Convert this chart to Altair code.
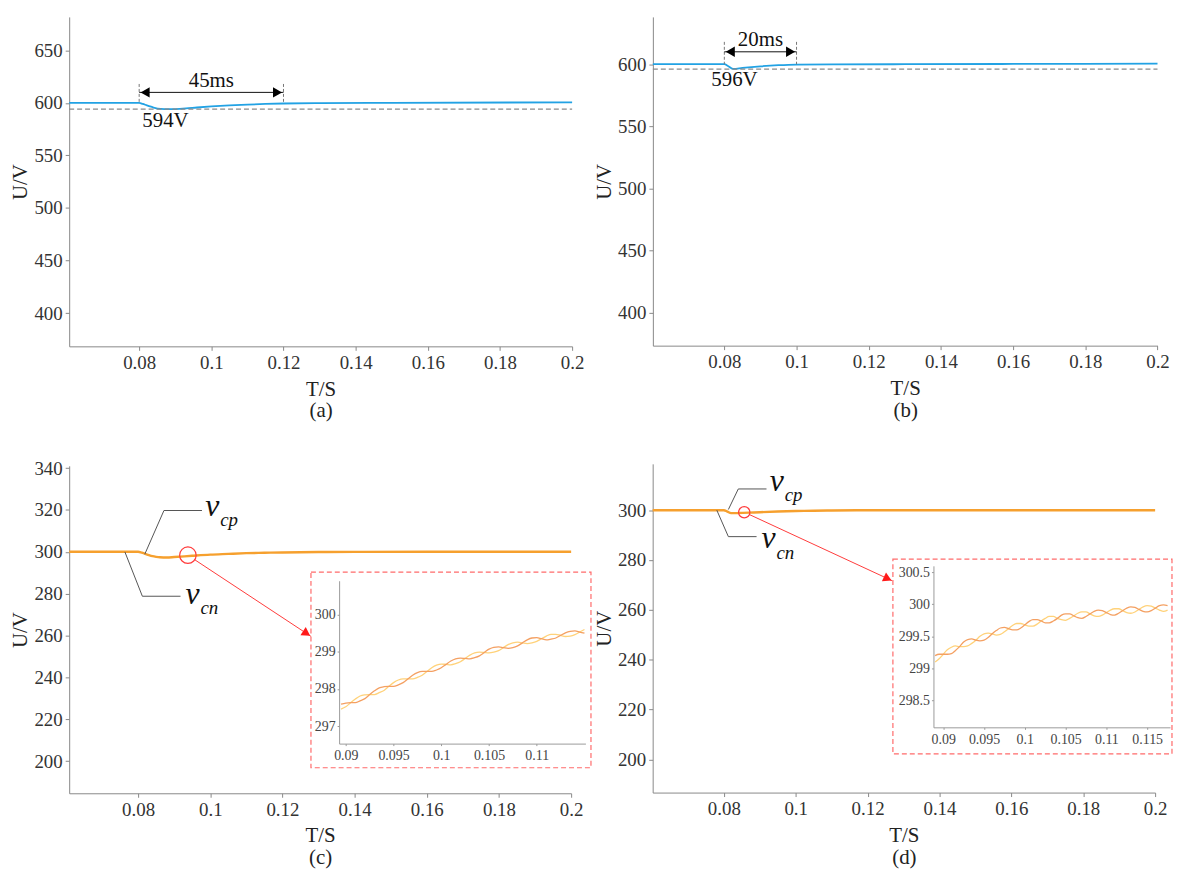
import altair as alt
import pandas as pd

FONT = "Liberation Serif"
W, H = 1173, 863

# ---------------- data ----------------
XT = [0.08, 0.1, 0.12, 0.14, 0.16, 0.18, 0.2]

# (a) DC-link voltage, load step
T_A = [0.0606, 0.08, 0.081, 0.082, 0.083, 0.084, 0.086, 0.088, 0.09, 0.093, 0.096, 0.1, 0.105, 0.11, 0.115, 0.12, 0.13, 0.15, 0.2]
U_A = [600, 600, 599.0, 597.8, 596.6, 595.6, 594.3, 594.0, 594.1, 594.7, 595.6, 596.6, 597.6, 598.4, 599.0, 599.4, 599.8, 600.1, 600.5]
# (b)
T_B = [0.0602, 0.08, 0.081, 0.0825, 0.085, 0.09, 0.095, 0.1, 0.11, 0.13, 0.16, 0.2]
U_B = [600, 600, 598.6, 596.2, 597.0, 598.3, 599.2, 599.7, 599.9, 600.0, 600.2, 600.4]
# (c)
T_C = [0.0609, 0.08, 0.081, 0.082, 0.083, 0.084, 0.085, 0.086, 0.088, 0.09, 0.095, 0.1, 0.105, 0.11, 0.115, 0.12, 0.13, 0.14, 0.16, 0.2]
U_C = [300, 300, 299.6, 299.0, 298.4, 297.9, 297.6, 297.4, 297.3, 297.5, 298.1, 298.65, 299.0, 299.35, 299.55, 299.7, 299.88, 299.95, 300, 300]
# (d)
T_D = [0.0602, 0.08, 0.081, 0.082, 0.084, 0.087, 0.09, 0.095, 0.1, 0.105, 0.11, 0.117, 0.13, 0.2]
U_D = [300, 300, 299.4, 298.8, 298.85, 299.0, 299.2, 299.48, 299.68, 299.8, 299.87, 299.95, 300, 300]

# zoomed insets
T_INSET = [0.089, 0.0895, 0.09, 0.0905, 0.091, 0.0915, 0.092, 0.0925, 0.093, 0.0935,
           0.094, 0.0945, 0.095, 0.0955, 0.096, 0.0965, 0.097, 0.0975, 0.098, 0.0985,
           0.099, 0.0995, 0.1, 0.1005, 0.101, 0.1015, 0.102, 0.1025, 0.103, 0.1035,
           0.104, 0.1045, 0.105, 0.1055, 0.106, 0.1065, 0.107, 0.1075, 0.108, 0.1085,
           0.109, 0.1095, 0.11, 0.1105, 0.111, 0.1115, 0.112, 0.1125, 0.113, 0.1135,
           0.114, 0.1145, 0.115, 0.1155, 0.116, 0.1165, 0.117, 0.1175]
T_IC = T_INSET[1:53]
VCP_C = [297.59, 297.62, 297.63, 297.63, 297.68, 297.74, 297.85, 297.95, 298.03, 298.06,
         298.07, 298.07, 298.11, 298.17, 298.27, 298.37, 298.44, 298.47, 298.47, 298.47,
         298.51, 298.57, 298.66, 298.75, 298.81, 298.83, 298.82, 298.81, 298.84, 298.89,
         298.98, 299.07, 299.12, 299.13, 299.11, 299.09, 299.11, 299.16, 299.24, 299.32,
         299.37, 299.38, 299.35, 299.32, 299.34, 299.37, 299.44, 299.51, 299.55, 299.56,
         299.53, 299.50]
VCN_C = [297.46, 297.52, 297.63, 297.73, 297.81, 297.84, 297.85, 297.85, 297.90, 297.96,
         298.07, 298.17, 298.24, 298.27, 298.27, 298.27, 298.31, 298.37, 298.47, 298.57,
         298.64, 298.67, 298.66, 298.65, 298.68, 298.73, 298.82, 298.91, 298.97, 298.99,
         298.98, 298.97, 298.99, 299.03, 299.11, 299.19, 299.24, 299.26, 299.24, 299.22,
         299.24, 299.28, 299.35, 299.42, 299.47, 299.47, 299.44, 299.41, 299.42, 299.46,
         299.53, 299.60]
T_ID = T_INSET
VCP_D = [299.20, 299.22, 299.22, 299.22, 299.23, 299.28, 299.34, 299.41, 299.45, 299.46,
         299.44, 299.43, 299.44, 299.48, 299.54, 299.59, 299.63, 299.64, 299.62, 299.60,
         299.60, 299.63, 299.68, 299.73, 299.76, 299.76, 299.74, 299.71, 299.71, 299.74,
         299.78, 299.83, 299.85, 299.85, 299.82, 299.79, 299.78, 299.81, 299.85, 299.89,
         299.91, 299.90, 299.87, 299.84, 299.83, 299.86, 299.90, 299.94, 299.96, 299.95,
         299.92, 299.89, 299.88, 299.90, 299.94, 299.98, 299.99, 299.98]
VCN_D = [299.10, 299.15, 299.22, 299.29, 299.33, 299.35, 299.34, 299.34, 299.35, 299.39,
         299.44, 299.50, 299.54, 299.55, 299.54, 299.52, 299.53, 299.57, 299.62, 299.67,
         299.70, 299.70, 299.68, 299.66, 299.66, 299.69, 299.74, 299.78, 299.81, 299.81,
         299.78, 299.76, 299.75, 299.78, 299.82, 299.86, 299.88, 299.88, 299.85, 299.82,
         299.81, 299.83, 299.87, 299.91, 299.93, 299.93, 299.90, 299.87, 299.86, 299.88,
         299.92, 299.96, 299.98, 299.97, 299.94, 299.91, 299.89, 299.91]

# annotation anchors (data units of each panel)
MIN_A, MIN_B = 594, 596
SPAN_A = [0.08, 0.12]
SPAN_B = [0.08, 0.1]
LBL_A = ["45ms", "594V"]
LBL_B = ["20ms", "596V"]

# ---------------- layout (pixel ranges) ----------------
PA = dict(xd=[0.0606, 0.2], xr=[61.6, 568.0], yd=[368.4, 681.8], yr=[337.7, 6.0])
PB = dict(xd=[0.0602, 0.2], xr=[649.3, 1157.4], yd=[373.4, 638.1], yr=[337.0, 6.0])
PC = dict(xd=[0.0609, 0.2], xr=[61.6, 567.0], yd=[184.6, 341.1], yr=[787.7, 458.0])
PD = dict(xd=[0.0602, 0.2], xr=[649.1, 1155.0], yd=[186.7, 318.6], yr=[787.0, 456.0])
IC = dict(xd=[0.0893, 0.1151], xr=[333.4, 581.4], yd=[296.53, 300.91], yr=[737.7, 573.7])
ID = dict(xd=[0.0888, 0.1178], xr=[931.8, 1170.0], yd=[298.08, 300.6], yr=[721.3, 558.7])

BLUE = "#22A2E4"
ORANGE = "#F6A02E"
IN_OR = "#F4A062"
IN_YE = "#FFD27A"
RED = "#FF3A3A"
GRAY = "#8a8a8a"


def sc(dom, rng):
    return alt.Scale(domain=dom, range=rng, nice=False, zero=False)


def enc(P, x="t", y="u", x2=None, y2=None, xaxis=None, yaxis=None, extra=None):
    e = dict(
        x=alt.X(f"{x}:Q", scale=sc(P["xd"], P["xr"]), axis=xaxis),
        y=alt.Y(f"{y}:Q", scale=sc(P["yd"], P["yr"]), axis=yaxis),
    )
    if x2:
        e["x2"] = alt.X2(f"{x2}:Q")
    if y2:
        e["y2"] = alt.Y2(f"{y2}:Q")
    if extra:
        e.update(extra)
    return e


def main_axes(P, yvals, cap):
    xa = alt.Axis(values=XT, format="~g", orient="bottom", offset=P["yr"][0] - H,
                  title=["T/S", cap], titleLineHeight=22, titlePadding=6,
                  labelFlush=False, labelOverlap=False, grid=False)
    ya = alt.Axis(values=yvals, orient="left", offset=-P["xr"][0], title="U/V",
                  titlePadding=3, labelOverlap=False, grid=False)
    return xa, ya


def inset_axes(P, xvals, yvals):
    common = dict(labelFontSize=14, tickSize=2, domainColor="#9a9a9a", tickColor="#9a9a9a",
                  labelColor="#444", title=None, labelOverlap=False, labelFlush=False,
                  grid=False, labelFont=FONT)
    xa = alt.Axis(values=xvals, format="~g", orient="bottom", offset=P["yr"][0] - H,
                  labelPadding=3, **common)
    ya = alt.Axis(values=yvals, format="~g", orient="left", offset=-P["xr"][0],
                  labelPadding=2, **common)
    return xa, ya


def df(**cols):
    return pd.DataFrame(cols)


layers = []


def top_panel(P, T, U, yvals, cap, mn, span, lbls, txt_pos):
    xa, ya = main_axes(P, yvals, cap)
    out = []
    out.append(alt.Chart(df(t=T, u=U)).mark_line(color=BLUE, strokeWidth=1.8, interpolate="monotone")
               .encode(**enc(P, xaxis=xa, yaxis=ya)))
    out.append(alt.Chart(df(t=[P["xd"][0]], t2=[P["xd"][1]], u=[mn])).mark_rule(
        color=GRAY, strokeDash=[5, 3], strokeWidth=1.3).encode(**enc(P, x2="t2")))
    out.append(alt.Chart(df(t=span, u=[618, 618], u2=[600, 600])).mark_rule(
        color="#777", strokeDash=[3, 2], strokeWidth=1).encode(**enc(P, y2="u2")))
    out.append(alt.Chart(df(t=[span[0]], t2=[span[1]], u=[610])).mark_rule(
        color="#111", strokeWidth=1).encode(**enc(P, x2="t2")))
    out.append(alt.Chart(df(t=[span[0] + 0.00165], u=[610])).mark_point(
        shape="triangle-left", filled=True, color="#000", opacity=1, size=110).encode(**enc(P)))
    out.append(alt.Chart(df(t=[span[1] - 0.00165], u=[610])).mark_point(
        shape="triangle-right", filled=True, color="#000", opacity=1, size=110).encode(**enc(P)))
    out.append(alt.Chart(df(t=txt_pos[0], u=txt_pos[1], s=lbls)).mark_text(
        font=FONT, fontSize=21, color="#111", align="center", baseline="alphabetic")
        .encode(**enc(P, extra=dict(text="s:N"))))
    return out


layers += top_panel(PA, T_A, U_A, [400, 450, 500, 550, 600, 650], "(a)", MIN_A, SPAN_A, LBL_A,
                    ([0.1, 0.0873], [614.7, 576.9]))
layers += top_panel(PB, T_B, U_B, [400, 450, 500, 550, 600], "(b)", MIN_B, SPAN_B, LBL_B,
                    ([0.09, 0.0828], [614.7, 582.1]))


def bottom_panel(P, I, T, U, yvals, cap, circ, csize, arrow, head, ang, lead_p, lead_n,
                 vpos, subpos, box, ixv, iyv, TI, VP, VN):
    xa, ya = main_axes(P, yvals, cap)
    out = []
    out.append(alt.Chart(df(t=T, u=U)).mark_line(color=ORANGE, strokeWidth=2.4, interpolate="monotone")
               .encode(**enc(P, xaxis=xa, yaxis=ya)))
    out.append(alt.Chart(df(t=[circ[0]], u=[circ[1]])).mark_point(
        shape="circle", filled=False, color=RED, opacity=1, strokeWidth=1.2, size=csize)
        .encode(**enc(P)))
    out.append(alt.Chart(df(t=[arrow[0]], u=[arrow[1]], t2=[arrow[2]], u2=[arrow[3]])).mark_rule(
        color=RED, strokeWidth=1).encode(**enc(P, x2="t2", y2="u2")))
    out.append(alt.Chart(df(t=[head[0]], u=[head[1]])).mark_point(
        shape="triangle-right", filled=True, color="#ff1a1a", opacity=1, size=95, angle=ang)
        .encode(**enc(P)))
    lead = pd.concat([df(t=lead_p[0], u=lead_p[1], g=["p"] * 3, o=[0, 1, 2]),
                      df(t=lead_n[0], u=lead_n[1], g=["n"] * 3, o=[0, 1, 2])])
    out.append(alt.Chart(lead).mark_line(color="#555", strokeWidth=1)
               .encode(**enc(P, extra=dict(detail="g:N", order="o:Q"))))
    out.append(alt.Chart(df(t=vpos[0], u=vpos[1], s=["v", "v"])).mark_text(
        font=FONT, fontSize=32, fontStyle="italic", color="#111", align="left", baseline="alphabetic")
        .encode(**enc(P, extra=dict(text="s:N"))))
    out.append(alt.Chart(df(t=subpos[0], u=subpos[1], s=["cp", "cn"])).mark_text(
        font=FONT, fontSize=19, fontStyle="italic", color="#111", align="left", baseline="alphabetic")
        .encode(**enc(P, extra=dict(text="s:N"))))
    # inset
    ixa, iya = inset_axes(I, ixv, iyv)
    out.append(alt.Chart(df(t=[box[0]], t2=[box[1]], u=[box[2]], u2=[box[3]])).mark_rect(
        fillOpacity=0, stroke="#FF6B6B", strokeDash=[5, 3], strokeWidth=1.2)
        .encode(**enc(I, x2="t2", y2="u2")))
    out.append(alt.Chart(df(t=TI, u=VN)).mark_line(color=IN_YE, strokeWidth=1.3, interpolate="monotone")
               .encode(**enc(I, xaxis=ixa, yaxis=iya)))
    out.append(alt.Chart(df(t=TI, u=VP)).mark_line(color=IN_OR, strokeWidth=1.3, interpolate="monotone")
               .encode(**enc(I)))
    return out


layers += bottom_panel(
    PC, IC, T_C, U_C, [200, 220, 240, 260, 280, 300, 320, 340], "(c)",
    circ=(0.0938, 298.4), csize=276,
    arrow=(0.0957, 296.2, 0.1279, 259.6), head=(0.1267, 261.0), ang=33,
    lead_p=([0.08185, 0.08716, 0.0977], [298.85, 319.74, 319.74]),
    lead_n=([0.07634, 0.08118, 0.09175], [299.94, 278.77, 278.77]),
    vpos=([0.09863, 0.09313], [317.0, 275.12]),
    subpos=([0.10276, 0.09726], [312.3, 270.37]),
    box=(0.08635, 0.11568, 295.881, 301.142),
    ixv=[0.09, 0.095, 0.1, 0.105, 0.11], iyv=[297, 298, 299, 300],
    TI=T_IC, VP=VCP_C, VN=VCN_C)

layers += bottom_panel(
    PD, ID, T_D, U_D, [200, 220, 240, 260, 280, 300], "(d)",
    circ=(0.08568, 299.19), csize=130,
    arrow=(0.08712, 298.24, 0.12685, 271.70), head=(0.12561, 272.53), ang=25,
    lead_p=([0.08126, 0.08402, 0.09187], [300.27, 308.52, 308.52]),
    lead_n=([0.07805, 0.08126, 0.08911], [299.99, 289.39, 289.39]),
    vpos=([0.09278, 0.09049], [307.56, 285.01]),
    subpos=([0.09693, 0.09463], [303.58, 280.35]),
    box=(0.08383, 0.11804, 297.666, 300.704),
    ixv=[0.09, 0.095, 0.1, 0.105, 0.11, 0.115], iyv=[298.5, 299, 299.5, 300, 300.5],
    TI=T_ID, VP=VCP_D, VN=VCN_D)

chart = (
    alt.layer(*layers)
    .resolve_scale(x="independent", y="independent")
    .properties(width=W, height=H, autosize=alt.AutoSizeParams(type="none"), padding=0,
                background="white")
    .configure_axis(labelFont=FONT, titleFont=FONT, labelFontSize=19, titleFontSize=21,
                    titleFontWeight="normal", labelColor="#333", titleColor="#222",
                    domainColor="#888", tickColor="#888", tickSize=4, labelPadding=3, grid=False)
    .configure_view(stroke=None)
)

chart.save("out.html", embed_options={"renderer": "svg", "actions": False})
